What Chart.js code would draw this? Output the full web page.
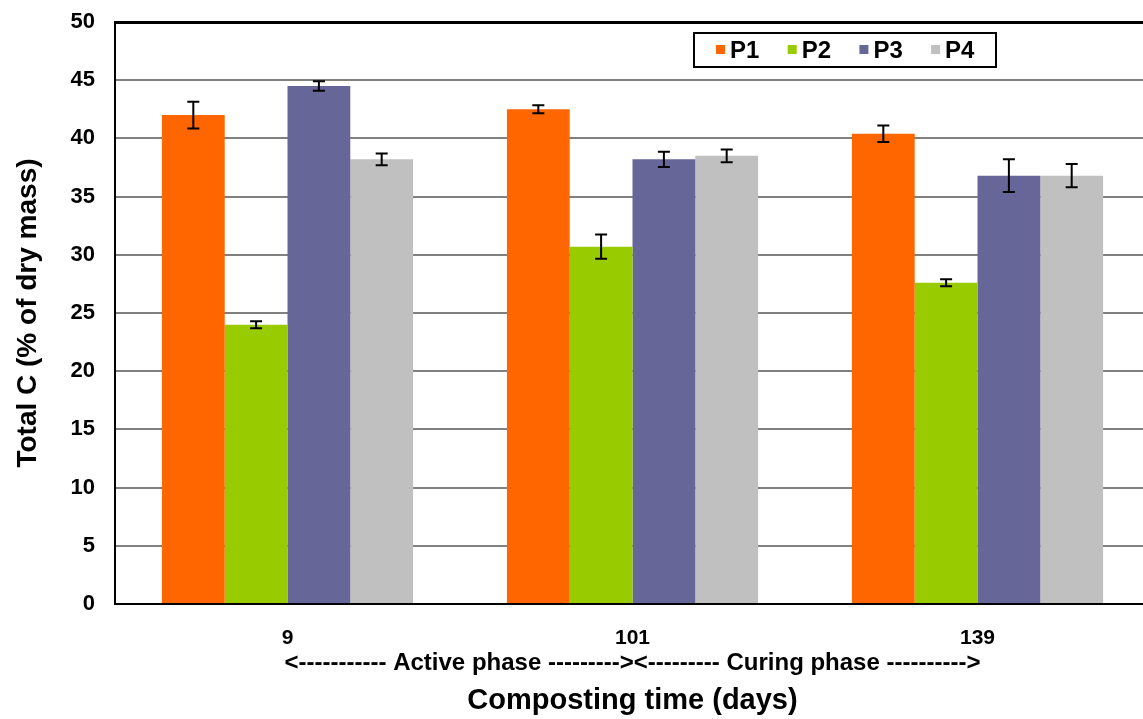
<!DOCTYPE html>
<html>
<head>
<meta charset="utf-8">
<script src="https://cdn.jsdelivr.net/npm/chart.js@4.4.1/dist/chart.umd.min.js"></script>
<style>
    html, body { margin: 0; background: #fff; overflow: hidden; }
    /* plot runs a few px past the right edge, like the original */
    #wrap { width: 1150px; height: 719px; }
</style>
</head>
<body>
<div id="wrap"><canvas id="carbonChart"></canvas></div>
<script>
const days = ["9", "101", "139"]
const phaseLabels = ["", "<----------- Active phase ---------><--------- Curing phase ---------->", ""]

const seriesNames = ["P1", "P2", "P3", "P4"]
const seriesColors = ["#FF6600", "#99CC00", "#666699", "#C0C0C0"]

const p1 = [42.0, 42.5, 40.4]
const p2 = [24.0, 30.7, 27.6]
const p3 = [44.5, 38.2, 36.8]
const p4 = [38.2, 38.5, 36.8]

const p1Err = [1.15, 0.35, 0.7]
const p2Err = [0.3, 1.05, 0.3]
const p3Err = [0.4, 0.65, 1.4]
const p4Err = [0.5, 0.55, 1.0]

const yTicks = [0, 5, 10, 15, 20, 25, 30, 35, 40, 45, 50]

const FONT = "'Liberation Sans', Arial, sans-serif"

// error bars drawn on top of each bar
const errorBars = {
    id: "errorBars",
    afterDatasetsDraw(chart) {
        const ctx = chart.ctx
        const yScale = chart.scales.y
        ctx.save()
        ctx.strokeStyle = "#000"
        ctx.lineWidth = 2
        chart.data.datasets.forEach((ds, i) => {
            const meta = chart.getDatasetMeta(i)
            meta.data.forEach((bar, j) => {
                const v = ds.data[j]
                const e = ds.errors[j]
                const yTop = yScale.getPixelForValue(v + e)
                const yBot = yScale.getPixelForValue(v - e)
                const x = bar.x
                ctx.beginPath()
                ctx.moveTo(x, yTop)
                ctx.lineTo(x, yBot)
                ctx.moveTo(x - 6, yTop)
                ctx.lineTo(x + 6, yTop)
                ctx.moveTo(x - 6, yBot)
                ctx.lineTo(x + 6, yBot)
                ctx.stroke()
            })
        })
        ctx.restore()
    }
}

// boxed legend sitting inside the plot
const boxedLegend = {
    id: "boxedLegend",
    afterDraw(chart) {
        const ctx = chart.ctx
        const left = 694, top = 33, w = 302, h = 34
        ctx.save()
        ctx.fillStyle = "#fff"
        ctx.fillRect(left, top, w, h)
        ctx.strokeStyle = "#000"
        ctx.lineWidth = 2
        ctx.strokeRect(left, top, w, h)
        ctx.font = "bold 24px " + FONT
        ctx.textBaseline = "middle"
        chart.data.datasets.forEach((ds, i) => {
            const x = 716 + i * 71.7
            ctx.fillStyle = ds.backgroundColor
            ctx.fillRect(x, top + 12, 9, 9)
            ctx.fillStyle = "#000"
            ctx.fillText(ds.label, x + 14, top + 18)
        })
        ctx.restore()
    }
}

const datasets = [p1, p2, p3, p4].map((values, i) => ({
    label: seriesNames[i],
    data: values,
    errors: [p1Err, p2Err, p3Err, p4Err][i],
    backgroundColor: seriesColors[i],
    borderWidth: 0,
    categoryPercentage: 0.728,
    barPercentage: 1.0
}))

new Chart(
    document.getElementById("carbonChart"),
    {
        type: "bar",

        data: {
            labels: days,
            datasets
        },

        options: {
            responsive: true,
            maintainAspectRatio: false,
            animation: false,
            layout: {
                padding: { top: 22, right: 0, bottom: 0, left: 0 }
            },

            plugins: {
                legend: { display: false },
                tooltip: { enabled: false }
            },

            scales: {
                x: {
                    type: "category",
                    position: "bottom",
                    weight: 0,
                    afterFit: scale => {
                        scale.height = 44
                    },
                    grid: { display: false, drawTicks: false },
                    border: { display: true, color: "#000", width: 2 },
                    ticks: {
                        color: "#000",
                        padding: 22,
                        font: { family: FONT, size: 21, weight: "bold" }
                    }
                },

                x2: {
                    type: "category",
                    position: "bottom",
                    weight: 1,
                    labels: phaseLabels,
                    offset: true,
                    afterFit: scale => {
                        scale.height = 71
                    },
                    grid: { display: false, drawTicks: false },
                    border: { display: false },
                    ticks: {
                        color: "#000",
                        padding: 1,
                        autoSkip: false,
                        maxRotation: 0,
                        minRotation: 0,
                        font: { family: FONT, size: 24, weight: "bold" }
                    },
                    title: {
                        display: true,
                        text: "Composting time (days)",
                        color: "#000",
                        padding: { top: 6, bottom: 1 },
                        font: { family: FONT, size: 29, weight: "bold" }
                    }
                },

                y: {
                    min: 0,
                    max: 50,
                    afterBuildTicks: scale => {
                        scale.ticks = yTicks.map(v => ({ value: v }))
                    },
                    afterFit: scale => {
                        scale.width = 115
                        scale.paddingTop = 0
                        scale.paddingBottom = 0
                    },
                    grid: {
                        drawTicks: false,
                        color: c => (c.tick && (c.tick.value === 50 || c.tick.value === 0)) ? "#000" : "#808080",
                        lineWidth: c => (c.tick && c.tick.value === 50) ? 3 : 2
                    },
                    border: { display: true, color: "#000", width: 2 },
                    ticks: {
                        color: "#000",
                        padding: 20,
                        font: { family: FONT, size: 22, weight: "bold" }
                    },
                    title: {
                        display: true,
                        text: "Total C (% of dry mass)",
                        color: "#000",
                        padding: { top: 11, bottom: 0 },
                        font: { family: FONT, size: 28, weight: "bold" }
                    }
                }
            }
        },

        plugins: [errorBars, boxedLegend]
    }
)
</script>
</body>
</html>
